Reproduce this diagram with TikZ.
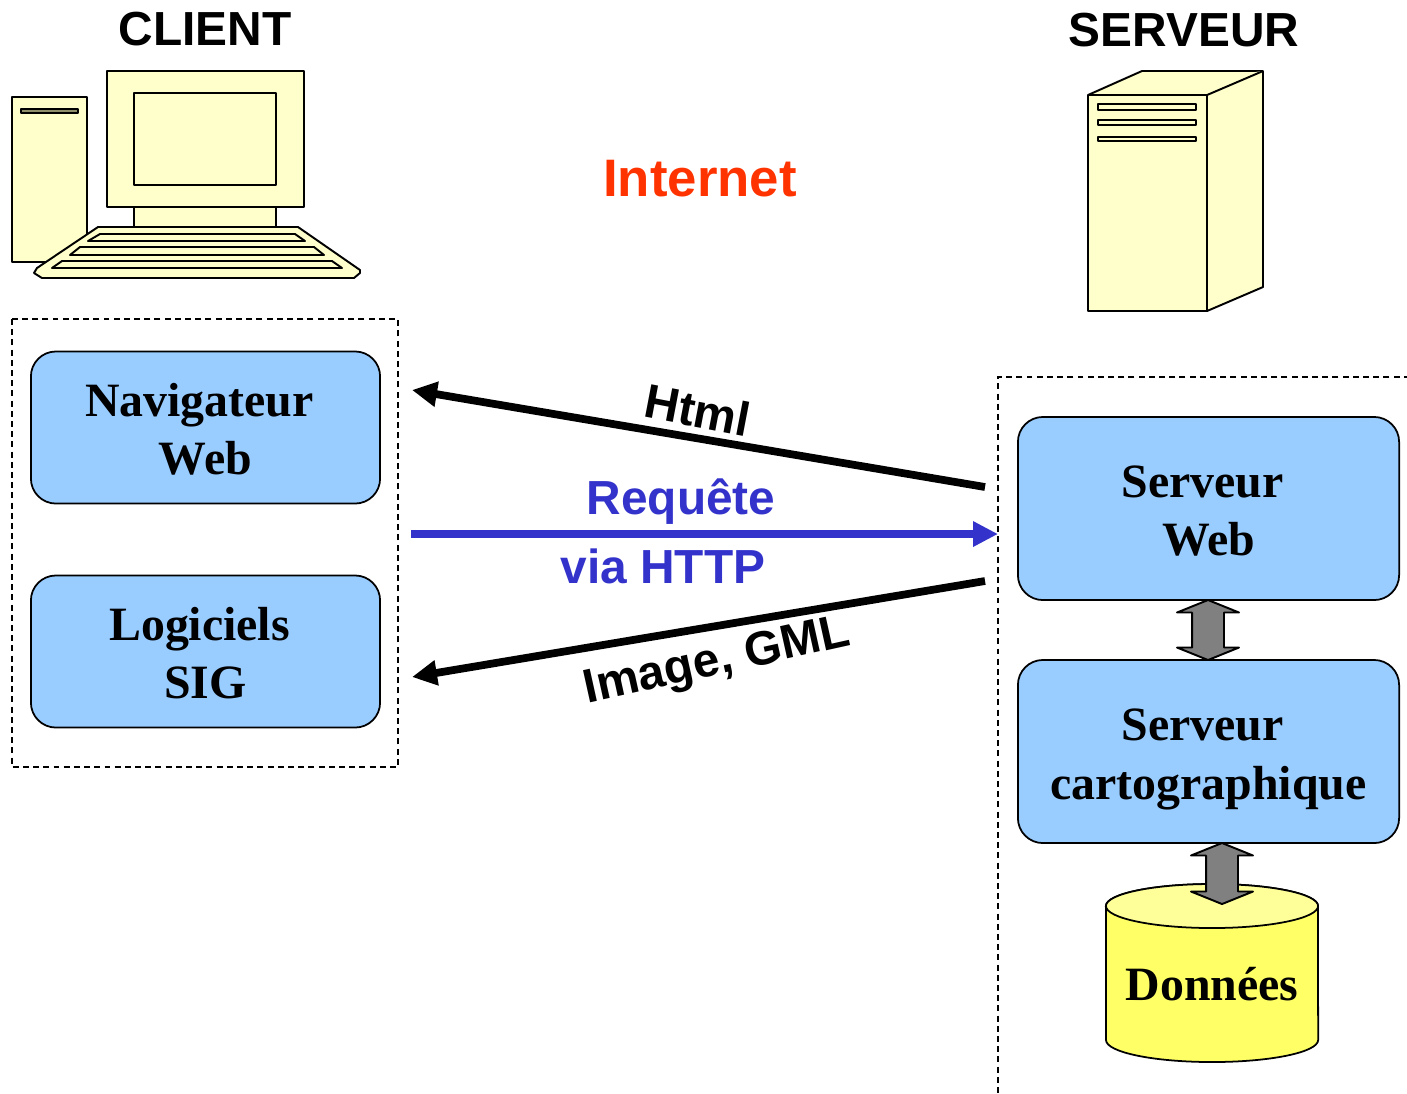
\documentclass[tikz,border=0pt]{standalone}
\usepackage{fontspec}
\setmainfont{Liberation Serif}
\setsansfont{Liberation Sans}
\usetikzlibrary{arrows.meta, shapes.arrows}

\definecolor{pale}{HTML}{FFFFCC}
\definecolor{sky}{HTML}{99CCFF}
\definecolor{dbbody}{HTML}{FFFF66}
\definecolor{dbtop}{HTML}{FFFF99}
\definecolor{slotgray}{HTML}{8F8F6B}
\definecolor{linkgray}{HTML}{808080}
\definecolor{reqblue}{HTML}{3333CC}
\definecolor{netred}{HTML}{FF3300}

% deux lignes de texte dans une boite
\newcommand{\boxlines}[2]{\rule{0pt}{13.5pt}\mbox{#1\ }\\#2\rule[-3pt]{0pt}{0pt}}

\begin{document}
\begin{tikzpicture}[
    x=0.01cm, y=-0.01cm,
    hw/.style={draw=black, fill=pale, line width=0.55pt, line join=round}, % materiel
    zone/.style={draw=black, line width=0.45pt, dash pattern=on 1.7pt off 1.2pt}, % zones en tirets
    appbox/.style={draw=black, fill=sky, line width=0.5pt, rounded corners=0.25cm, inner sep=0pt,
        align=center, font=\fontsize{13.6}{16.5}\selectfont\bfseries}, % boites logicielles
    title/.style={anchor=base, inner sep=0pt, font=\fontsize{13.6}{16}\selectfont\sffamily\bfseries},
    flow/.style={line width=2.2pt, -{Triangle[length=0.25cm, width=0.24cm]}}, % fleches Html, Image
    link/.style={draw=black, fill=linkgray, line width=0.55pt, line join=round, shape=double arrow, rotate=90,
        inner xsep=0pt, inner ysep=0.15cm, double arrow head extend=0.15cm,
        double arrow tip angle=136} % liaisons internes
]
    \useasboundingbox (0,0) rectangle (1407,1093);

    % 1. Poste client
    \draw[hw] (12,97) rectangle (87,262);
    \draw[hw, fill=slotgray] (21,109) rectangle (78,113);
    \draw[hw] (134,207) rectangle (276,230);
    \draw[hw] (107,71) rectangle (304,207);
    \draw[hw] (134,93) rectangle (276,185);
    \draw[hw] (98,227) -- (298,227) -- (360,270) -- (360,273) -- (354,278) -- (42,278)
        -- (34,273) -- (37,268) -- cycle;
    \foreach \xa/\xb/\xc/\xd/\ya/\yb in {100/295/305/88/234/241, 80/314/324/70/247/255, 62/332/342/52/261/268} {
        \draw[hw] (\xa,\ya) -- (\xb,\ya) -- (\xc,\yb) -- (\xd,\yb) -- cycle;
    }

    % 2. Machine serveur
    \draw[hw] (1088,95) -- (1142,71) -- (1263,71) -- (1263,287) -- (1207,311) -- (1088,311) -- cycle;
    \draw[hw] (1088,95) -- (1207,95) -- (1263,71);
    \draw[hw] (1207,95) -- (1207,311);
    \foreach \ya/\yb in {104/110, 120/125, 137/141} {
        \draw[hw] (1098,\ya) rectangle (1196,\yb);
    }

    % 3. Titres
    \node[title] (client) at (205,45) {CLIENT};
    \node[title] (serveur) at (1184,46) {SERVEUR};
    \node[title, netred, font=\fontsize{15}{18}\selectfont\sffamily\bfseries] (internet) at (700,196) {Internet};

    % 4. Zones en tirets
    \draw[zone] (12,319) rectangle (398,767);
    \draw[zone] (1420,377) -- (998,377) -- (998,1093);

    % 5. Boites
    \node[appbox, minimum width=3.49cm, minimum height=1.52cm] (nav) at (205.5,427.5) {\boxlines{Navigateur}{Web}};
    \node[appbox, minimum width=3.49cm, minimum height=1.52cm] (sig) at (205.5,651.5) {\boxlines{Logiciels}{SIG}};
    \node[appbox, minimum width=3.81cm, minimum height=1.83cm] (web) at (1208.5,508.5) {\boxlines{Serveur}{Web}};
    \node[appbox, minimum width=3.81cm, minimum height=1.83cm] (carto) at (1208.5,751.5) {\boxlines{Serveur}{cartographique}};

    % 6. Base de donnees
    \draw[draw=black, fill=dbbody, line width=0.5pt] (1106,906) -- (1106,1040) arc[start angle=180, end angle=360, x radius=1.06cm, y radius=0.22cm]
        -- (1318,906) arc[start angle=0, end angle=180, x radius=1.06cm, y radius=0.22cm] -- cycle;
    \draw[draw=black, fill=dbtop, line width=0.5pt] (1212,906) ellipse[x radius=1.06cm, y radius=0.22cm];
    \node[inner sep=0pt, font=\fontsize{13.6}{16.5}\selectfont\bfseries] (data) at (1212,984) {Données};

    % 7. Liaisons internes
    \node[link, minimum height=0.6cm] (webcarto) at (1208,630) {};
    \node[link, minimum height=0.61cm] (cartodata) at (1222,873.5) {};

    % 8. Echanges
    \coordinate (htmlA) at (985,487);
    \coordinate (htmlB) at (412,390);
    \coordinate (reqA) at (411,534);
    \coordinate (reqB) at (998,534);
    \coordinate (imgA) at (985,581);
    \coordinate (imgB) at (412,677);
    \draw[flow] (htmlA) -- (htmlB);
    \draw[flow, reqblue] (reqA) -- (reqB);
    \draw[flow] (imgA) -- (imgB);
    \node[title, anchor=center, rotate=-10.8] (html) at (697.5,410) {Html};
    \node[title, reqblue] (req) at (681,514) {Requête};
    \node[title, reqblue] (http) at (663,583) {via HTTP};
    \node[title, anchor=center, rotate=12.5] (img) at (717,663) {Image, GML};
\end{tikzpicture}
\end{document}
